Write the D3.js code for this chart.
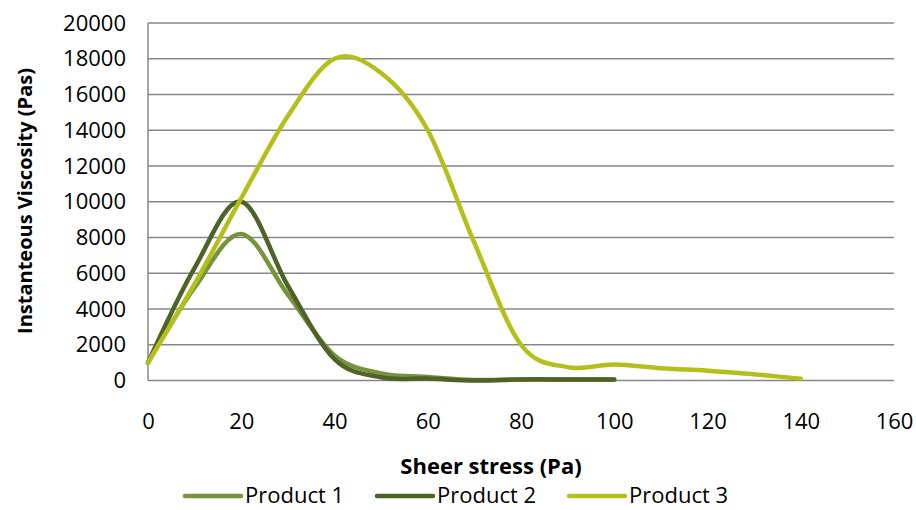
<!DOCTYPE html>
<html>
<head>
<meta charset="utf-8">
<script src="https://cdn.jsdelivr.net/npm/d3@7"></script>
<style>
  html, body { margin: 0; padding: 0; background: #ffffff; }
  svg { display: block; }
  text { font-family: "Open Sans", "Noto Sans", sans-serif; fill: #000; }
</style>
</head>
<body>
<svg id="chart" width="916" height="510"></svg>
<script>
// ---- data ----
const stress = [0, 10, 20, 30, 40, 50, 60, 70, 80, 90, 100, 110, 120, 130, 140];
const product1 = [1000, 5200, 8200, 4800, 1400, 400, 200, 30, 60, 50, 50];
const product2 = [1000, 6300, 10000, 5300, 1200, 180, 110, 0, 60, 60, 60];
const product3 = [1000, 5400, 10200, 14800, 18000, 17200, 14000, 7700, 2000, 750, 900, 680, 550, 350, 100];
const seriesNames = ["Product 1", "Product 2", "Product 3"];
const seriesColors = ["#77933c", "#4f6228", "#b3c01a"];
const xTicks = [0, 20, 40, 60, 80, 100, 120, 140, 160];
const yTicks = [0, 2000, 4000, 6000, 8000, 10000, 12000, 14000, 16000, 18000, 20000];
const xTitle = "Sheer stress (Pa)";
const yTitle = "Instanteous Viscosity (Pas)";

// ---- layout ----
const svg = d3.select("#chart");
const plot = { left: 148, right: 894, top: 23, bottom: 380.5 };
const x = d3.scaleLinear().domain([0, 160]).range([plot.left, plot.right]);
const y = d3.scaleLinear().domain([0, 20000]).range([plot.bottom, plot.top]);

// gridlines
svg.append("g")
  .selectAll("line")
  .data(yTicks.filter(d => d > 0))
  .join("line")
  .attr("x1", plot.left).attr("x2", plot.right)
  .attr("y1", d => y(d)).attr("y2", d => y(d))
  .attr("stroke", "#878787").attr("stroke-width", 1.5);

// axes lines
svg.append("line")
  .attr("x1", plot.left).attr("x2", plot.left)
  .attr("y1", plot.top).attr("y2", plot.bottom)
  .attr("stroke", "#878787").attr("stroke-width", 1.5);
svg.append("line")
  .attr("x1", plot.left).attr("x2", plot.right)
  .attr("y1", plot.bottom).attr("y2", plot.bottom)
  .attr("stroke", "#878787").attr("stroke-width", 1.5);

// y tick labels
const yAxis = d3.axisLeft(y).tickValues(yTicks).tickSize(0).tickPadding(22).tickFormat(d3.format("d"));
const gy = svg.append("g").attr("transform", `translate(${plot.left},0)`).call(yAxis);
gy.select(".domain").remove();
gy.selectAll("text").attr("font-size", 22).attr("font-family", '"Open Sans", sans-serif').attr("fill", "#000");

// x tick labels
const xAxis = d3.axisBottom(x).tickValues(xTicks).tickSize(0).tickPadding(33).tickFormat(d3.format("d"));
const gx = svg.append("g").attr("transform", `translate(0,${plot.bottom})`).call(xAxis);
gx.select(".domain").remove();
gx.selectAll("text").attr("font-size", 22).attr("font-family", '"Open Sans", sans-serif').attr("fill", "#000");

// lines
const allSeries = [product1, product2, product3];
const line = d3.line()
  .x((d, i) => x(stress[i]))
  .y(d => y(d))
  .curve(d3.curveCardinal.tension(0));

svg.append("g")
  .selectAll("path")
  .data(allSeries)
  .join("path")
  .attr("d", d => line(d))
  .attr("fill", "none")
  .attr("stroke", (d, i) => seriesColors[i])
  .attr("stroke-width", 4.5)
  .attr("stroke-linecap", "round")
  .attr("stroke-linejoin", "round");

// axis titles
svg.append("text")
  .attr("x", 491).attr("y", 474)
  .attr("text-anchor", "middle")
  .attr("font-size", 22).attr("font-weight", "bold")
  .text(xTitle);

svg.append("text")
  .attr("transform", "translate(32,201) rotate(-90)")
  .attr("text-anchor", "middle")
  .attr("font-size", 20).attr("font-weight", "bold")
  .text(yTitle);

// legend
const legendX = [185, 377, 569];
const lg = svg.append("g");
seriesNames.forEach((name, i) => {
  lg.append("line")
    .attr("x1", legendX[i]).attr("x2", legendX[i] + 56)
    .attr("y1", 496).attr("y2", 496)
    .attr("stroke", seriesColors[i]).attr("stroke-width", 4.5)
    .attr("stroke-linecap", "round");
  lg.append("text")
    .attr("x", legendX[i] + 60).attr("y", 503)
    .attr("font-size", 22)
    .text(name);
});
</script>
</body>
</html>
